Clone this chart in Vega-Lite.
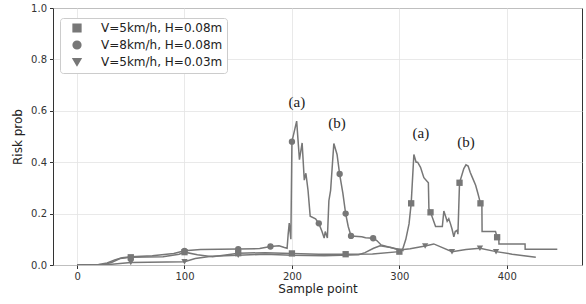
{
  "$schema": "https://vega.github.io/schema/vega-lite/v6.json",
  "width": 529,
  "height": 257,
  "autosize": "none",
  "padding": {"left": 53, "top": 8, "right": 4, "bottom": 39},
  "background": "white",
  "config": {
    "view": {"stroke": "#333333", "strokeWidth": 1},
    "font": "DejaVu Sans",
    "axis": {"labelFont": "DejaVu Sans", "titleFont": "DejaVu Sans", "labelColor": "#333333", "titleColor": "#222222", "gridColor": "#e3e3e3", "gridWidth": 0.8, "tickColor": "#333333", "domain": false},
    "legend": {"orient": "none", "legendX": 7, "legendY": 10, "fillColor": "white", "strokeColor": "#cccccc", "cornerRadius": 3, "padding": 4, "labelFontSize": 12, "labelFont": "DejaVu Sans", "labelColor": "#222222", "rowPadding": 3, "symbolSize": 60, "symbolOffset": 7, "labelOffset": 18}
  },
  "datasets": {
    "lines": [
      {"series": "V=5km/h, H=0.08m", "x": 0, "y": 0},
      {"series": "V=5km/h, H=0.08m", "x": 25, "y": 0.002},
      {"series": "V=5km/h, H=0.08m", "x": 32, "y": 0.01},
      {"series": "V=5km/h, H=0.08m", "x": 40, "y": 0.025},
      {"series": "V=5km/h, H=0.08m", "x": 50, "y": 0.03},
      {"series": "V=5km/h, H=0.08m", "x": 80, "y": 0.032},
      {"series": "V=5km/h, H=0.08m", "x": 95, "y": 0.042},
      {"series": "V=5km/h, H=0.08m", "x": 100, "y": 0.05},
      {"series": "V=5km/h, H=0.08m", "x": 112, "y": 0.04},
      {"series": "V=5km/h, H=0.08m", "x": 126, "y": 0.032},
      {"series": "V=5km/h, H=0.08m", "x": 140, "y": 0.04},
      {"series": "V=5km/h, H=0.08m", "x": 150, "y": 0.046},
      {"series": "V=5km/h, H=0.08m", "x": 175, "y": 0.048},
      {"series": "V=5km/h, H=0.08m", "x": 200, "y": 0.045},
      {"series": "V=5km/h, H=0.08m", "x": 225, "y": 0.042},
      {"series": "V=5km/h, H=0.08m", "x": 250, "y": 0.042},
      {"series": "V=5km/h, H=0.08m", "x": 275, "y": 0.043},
      {"series": "V=5km/h, H=0.08m", "x": 300, "y": 0.052},
      {"series": "V=5km/h, H=0.08m", "x": 303, "y": 0.06},
      {"series": "V=5km/h, H=0.08m", "x": 306, "y": 0.1},
      {"series": "V=5km/h, H=0.08m", "x": 309, "y": 0.16},
      {"series": "V=5km/h, H=0.08m", "x": 311, "y": 0.24},
      {"series": "V=5km/h, H=0.08m", "x": 313.5, "y": 0.43},
      {"series": "V=5km/h, H=0.08m", "x": 315.6, "y": 0.4},
      {"series": "V=5km/h, H=0.08m", "x": 317, "y": 0.4},
      {"series": "V=5km/h, H=0.08m", "x": 319.7, "y": 0.38},
      {"series": "V=5km/h, H=0.08m", "x": 322.8, "y": 0.34},
      {"series": "V=5km/h, H=0.08m", "x": 327, "y": 0.32},
      {"series": "V=5km/h, H=0.08m", "x": 327.5, "y": 0.22},
      {"series": "V=5km/h, H=0.08m", "x": 329, "y": 0.205},
      {"series": "V=5km/h, H=0.08m", "x": 333.7, "y": 0.15},
      {"series": "V=5km/h, H=0.08m", "x": 340, "y": 0.15},
      {"series": "V=5km/h, H=0.08m", "x": 341.4, "y": 0.21},
      {"series": "V=5km/h, H=0.08m", "x": 343, "y": 0.19},
      {"series": "V=5km/h, H=0.08m", "x": 344.5, "y": 0.17},
      {"series": "V=5km/h, H=0.08m", "x": 346, "y": 0.18},
      {"series": "V=5km/h, H=0.08m", "x": 347.6, "y": 0.16},
      {"series": "V=5km/h, H=0.08m", "x": 349, "y": 0.14},
      {"series": "V=5km/h, H=0.08m", "x": 350.7, "y": 0.11},
      {"series": "V=5km/h, H=0.08m", "x": 352, "y": 0.13},
      {"series": "V=5km/h, H=0.08m", "x": 353.8, "y": 0.135},
      {"series": "V=5km/h, H=0.08m", "x": 354.5, "y": 0.12},
      {"series": "V=5km/h, H=0.08m", "x": 356, "y": 0.32},
      {"series": "V=5km/h, H=0.08m", "x": 360, "y": 0.375},
      {"series": "V=5km/h, H=0.08m", "x": 362, "y": 0.39},
      {"series": "V=5km/h, H=0.08m", "x": 364, "y": 0.385},
      {"series": "V=5km/h, H=0.08m", "x": 366, "y": 0.36},
      {"series": "V=5km/h, H=0.08m", "x": 368, "y": 0.34},
      {"series": "V=5km/h, H=0.08m", "x": 371, "y": 0.31},
      {"series": "V=5km/h, H=0.08m", "x": 373, "y": 0.28},
      {"series": "V=5km/h, H=0.08m", "x": 375.5, "y": 0.24},
      {"series": "V=5km/h, H=0.08m", "x": 376.8, "y": 0.24},
      {"series": "V=5km/h, H=0.08m", "x": 377, "y": 0.13},
      {"series": "V=5km/h, H=0.08m", "x": 389.5, "y": 0.13},
      {"series": "V=5km/h, H=0.08m", "x": 391, "y": 0.108},
      {"series": "V=5km/h, H=0.08m", "x": 392.6, "y": 0.108},
      {"series": "V=5km/h, H=0.08m", "x": 392.7, "y": 0.082},
      {"series": "V=5km/h, H=0.08m", "x": 417, "y": 0.082},
      {"series": "V=5km/h, H=0.08m", "x": 417.1, "y": 0.061},
      {"series": "V=5km/h, H=0.08m", "x": 447, "y": 0.061},
      {"series": "V=8km/h, H=0.08m", "x": 0, "y": 0},
      {"series": "V=8km/h, H=0.08m", "x": 20, "y": 0.002},
      {"series": "V=8km/h, H=0.08m", "x": 28, "y": 0.008},
      {"series": "V=8km/h, H=0.08m", "x": 35, "y": 0.02},
      {"series": "V=8km/h, H=0.08m", "x": 42, "y": 0.028},
      {"series": "V=8km/h, H=0.08m", "x": 50, "y": 0.032},
      {"series": "V=8km/h, H=0.08m", "x": 70, "y": 0.036},
      {"series": "V=8km/h, H=0.08m", "x": 90, "y": 0.045},
      {"series": "V=8km/h, H=0.08m", "x": 100, "y": 0.055},
      {"series": "V=8km/h, H=0.08m", "x": 115, "y": 0.06},
      {"series": "V=8km/h, H=0.08m", "x": 150, "y": 0.062},
      {"series": "V=8km/h, H=0.08m", "x": 170, "y": 0.064},
      {"series": "V=8km/h, H=0.08m", "x": 180, "y": 0.072},
      {"series": "V=8km/h, H=0.08m", "x": 188, "y": 0.075},
      {"series": "V=8km/h, H=0.08m", "x": 193, "y": 0.068},
      {"series": "V=8km/h, H=0.08m", "x": 195.5, "y": 0.065},
      {"series": "V=8km/h, H=0.08m", "x": 196.5, "y": 0.12},
      {"series": "V=8km/h, H=0.08m", "x": 197.5, "y": 0.163},
      {"series": "V=8km/h, H=0.08m", "x": 199, "y": 0.1},
      {"series": "V=8km/h, H=0.08m", "x": 200, "y": 0.48},
      {"series": "V=8km/h, H=0.08m", "x": 204.4, "y": 0.56},
      {"series": "V=8km/h, H=0.08m", "x": 207, "y": 0.41},
      {"series": "V=8km/h, H=0.08m", "x": 209.5, "y": 0.475},
      {"series": "V=8km/h, H=0.08m", "x": 211.5, "y": 0.33},
      {"series": "V=8km/h, H=0.08m", "x": 213, "y": 0.357},
      {"series": "V=8km/h, H=0.08m", "x": 215, "y": 0.29},
      {"series": "V=8km/h, H=0.08m", "x": 217, "y": 0.19},
      {"series": "V=8km/h, H=0.08m", "x": 222, "y": 0.18},
      {"series": "V=8km/h, H=0.08m", "x": 225, "y": 0.162},
      {"series": "V=8km/h, H=0.08m", "x": 228, "y": 0.13},
      {"series": "V=8km/h, H=0.08m", "x": 230, "y": 0.105},
      {"series": "V=8km/h, H=0.08m", "x": 231, "y": 0.13},
      {"series": "V=8km/h, H=0.08m", "x": 233, "y": 0.105},
      {"series": "V=8km/h, H=0.08m", "x": 234.4, "y": 0.25},
      {"series": "V=8km/h, H=0.08m", "x": 236, "y": 0.29},
      {"series": "V=8km/h, H=0.08m", "x": 239, "y": 0.473},
      {"series": "V=8km/h, H=0.08m", "x": 242, "y": 0.43},
      {"series": "V=8km/h, H=0.08m", "x": 244.4, "y": 0.354},
      {"series": "V=8km/h, H=0.08m", "x": 247.4, "y": 0.28},
      {"series": "V=8km/h, H=0.08m", "x": 250, "y": 0.2},
      {"series": "V=8km/h, H=0.08m", "x": 252.4, "y": 0.15},
      {"series": "V=8km/h, H=0.08m", "x": 255, "y": 0.113},
      {"series": "V=8km/h, H=0.08m", "x": 265, "y": 0.11},
      {"series": "V=8km/h, H=0.08m", "x": 268.5, "y": 0.106},
      {"series": "V=8km/h, H=0.08m", "x": 275.6, "y": 0.104},
      {"series": "V=8km/h, H=0.08m", "x": 279, "y": 0.095},
      {"series": "V=8km/h, H=0.08m", "x": 283, "y": 0.078},
      {"series": "V=8km/h, H=0.08m", "x": 290, "y": 0.07},
      {"series": "V=8km/h, H=0.08m", "x": 300, "y": 0.06},
      {"series": "V=8km/h, H=0.08m", "x": 304, "y": 0.055},
      {"series": "V=5km/h, H=0.03m", "x": 0, "y": 0},
      {"series": "V=5km/h, H=0.03m", "x": 30, "y": 0.002},
      {"series": "V=5km/h, H=0.03m", "x": 45, "y": 0.008},
      {"series": "V=5km/h, H=0.03m", "x": 50, "y": 0.01},
      {"series": "V=5km/h, H=0.03m", "x": 100, "y": 0.013},
      {"series": "V=5km/h, H=0.03m", "x": 110, "y": 0.025},
      {"series": "V=5km/h, H=0.03m", "x": 125, "y": 0.034},
      {"series": "V=5km/h, H=0.03m", "x": 150, "y": 0.038},
      {"series": "V=5km/h, H=0.03m", "x": 175, "y": 0.042},
      {"series": "V=5km/h, H=0.03m", "x": 200, "y": 0.038},
      {"series": "V=5km/h, H=0.03m", "x": 230, "y": 0.036},
      {"series": "V=5km/h, H=0.03m", "x": 262, "y": 0.04},
      {"series": "V=5km/h, H=0.03m", "x": 268, "y": 0.048},
      {"series": "V=5km/h, H=0.03m", "x": 276, "y": 0.065},
      {"series": "V=5km/h, H=0.03m", "x": 282, "y": 0.075},
      {"series": "V=5km/h, H=0.03m", "x": 292, "y": 0.068},
      {"series": "V=5km/h, H=0.03m", "x": 300, "y": 0.058},
      {"series": "V=5km/h, H=0.03m", "x": 310, "y": 0.063},
      {"series": "V=5km/h, H=0.03m", "x": 324, "y": 0.074},
      {"series": "V=5km/h, H=0.03m", "x": 332, "y": 0.082},
      {"series": "V=5km/h, H=0.03m", "x": 349, "y": 0.052},
      {"series": "V=5km/h, H=0.03m", "x": 362, "y": 0.06},
      {"series": "V=5km/h, H=0.03m", "x": 375, "y": 0.065},
      {"series": "V=5km/h, H=0.03m", "x": 390, "y": 0.052},
      {"series": "V=5km/h, H=0.03m", "x": 405, "y": 0.042},
      {"series": "V=5km/h, H=0.03m", "x": 427, "y": 0.03}
    ],
    "pts": [
      {"series": "V=5km/h, H=0.08m", "x": 50, "y": 0.03},
      {"series": "V=5km/h, H=0.08m", "x": 100, "y": 0.05},
      {"series": "V=5km/h, H=0.08m", "x": 150, "y": 0.046},
      {"series": "V=5km/h, H=0.08m", "x": 200, "y": 0.045},
      {"series": "V=5km/h, H=0.08m", "x": 250, "y": 0.042},
      {"series": "V=5km/h, H=0.08m", "x": 300, "y": 0.052},
      {"series": "V=5km/h, H=0.08m", "x": 311, "y": 0.24},
      {"series": "V=5km/h, H=0.08m", "x": 329, "y": 0.205},
      {"series": "V=5km/h, H=0.08m", "x": 356, "y": 0.32},
      {"series": "V=5km/h, H=0.08m", "x": 375.5, "y": 0.24},
      {"series": "V=5km/h, H=0.08m", "x": 391, "y": 0.108},
      {"series": "V=8km/h, H=0.08m", "x": 100, "y": 0.055},
      {"series": "V=8km/h, H=0.08m", "x": 150, "y": 0.062},
      {"series": "V=8km/h, H=0.08m", "x": 180, "y": 0.072},
      {"series": "V=8km/h, H=0.08m", "x": 200, "y": 0.48},
      {"series": "V=8km/h, H=0.08m", "x": 225, "y": 0.162},
      {"series": "V=8km/h, H=0.08m", "x": 244.4, "y": 0.354},
      {"series": "V=8km/h, H=0.08m", "x": 250, "y": 0.2},
      {"series": "V=8km/h, H=0.08m", "x": 255, "y": 0.113},
      {"series": "V=8km/h, H=0.08m", "x": 275.6, "y": 0.104},
      {"series": "V=5km/h, H=0.03m", "x": 50, "y": 0.01},
      {"series": "V=5km/h, H=0.03m", "x": 100, "y": 0.013},
      {"series": "V=5km/h, H=0.03m", "x": 150, "y": 0.038},
      {"series": "V=5km/h, H=0.03m", "x": 324, "y": 0.074},
      {"series": "V=5km/h, H=0.03m", "x": 349, "y": 0.052},
      {"series": "V=5km/h, H=0.03m", "x": 375, "y": 0.065},
      {"series": "V=5km/h, H=0.03m", "x": 390, "y": 0.052}
    ],
    "notes": [
      {"x": 204.6, "y": 0.634, "label": "(a)"},
      {"x": 242, "y": 0.553, "label": "(b)"},
      {"x": 320, "y": 0.514, "label": "(a)"},
      {"x": 362, "y": 0.479, "label": "(b)"}
    ]
  },
  "layer": [
    {
      "data": {"name": "lines"},
      "mark": {"type": "line", "strokeWidth": 1.5, "clip": true},
      "encoding": {
        "x": {"field": "x", "type": "quantitative", "scale": {"domain": [-22.4, 470], "nice": false, "zero": false},
          "axis": {"values": [0, 100, 200, 300, 400], "title": "Sample point", "titleFontSize": 12, "titleFontWeight": "normal", "labelFontSize": 10, "tickSize": 3.5, "labelPadding": 3, "titlePadding": 2}},
        "y": {"field": "y", "type": "quantitative", "scale": {"domain": [0, 1], "nice": false},
          "axis": {"values": [0, 0.2, 0.4, 0.6, 0.8, 1.0], "format": ".1f", "title": "Risk prob", "titleFontSize": 12, "titleFontWeight": "normal", "labelFontSize": 10, "tickSize": 3.5, "labelPadding": 3, "titlePadding": 6}},
        "color": {"field": "series", "type": "nominal", "scale": {"domain": ["V=5km/h, H=0.08m", "V=8km/h, H=0.08m", "V=5km/h, H=0.03m"], "range": ["#777777", "#777777", "#777777"]}, "legend": {"title": null}},
        "order": {"field": "x", "type": "quantitative"}
      }
    },
    {
      "data": {"name": "pts"},
      "mark": {"type": "point", "filled": true, "opacity": 1, "size": 40},
      "encoding": {
        "x": {"field": "x", "type": "quantitative"},
        "y": {"field": "y", "type": "quantitative"},
        "color": {"field": "series", "type": "nominal", "legend": {"title": null}},
        "shape": {"field": "series", "type": "nominal",
          "scale": {"domain": ["V=5km/h, H=0.08m", "V=8km/h, H=0.08m", "V=5km/h, H=0.03m"], "range": ["square", "circle", "triangle-down"]},
          "legend": {"title": null}}
      }
    },
    {
      "data": {"name": "notes"},
      "mark": {"type": "text", "font": "Liberation Serif", "fontSize": 15, "color": "#222222", "baseline": "middle", "align": "center"},
      "encoding": {
        "x": {"field": "x", "type": "quantitative"},
        "y": {"field": "y", "type": "quantitative"},
        "text": {"field": "label"}
      }
    }
  ]
}
